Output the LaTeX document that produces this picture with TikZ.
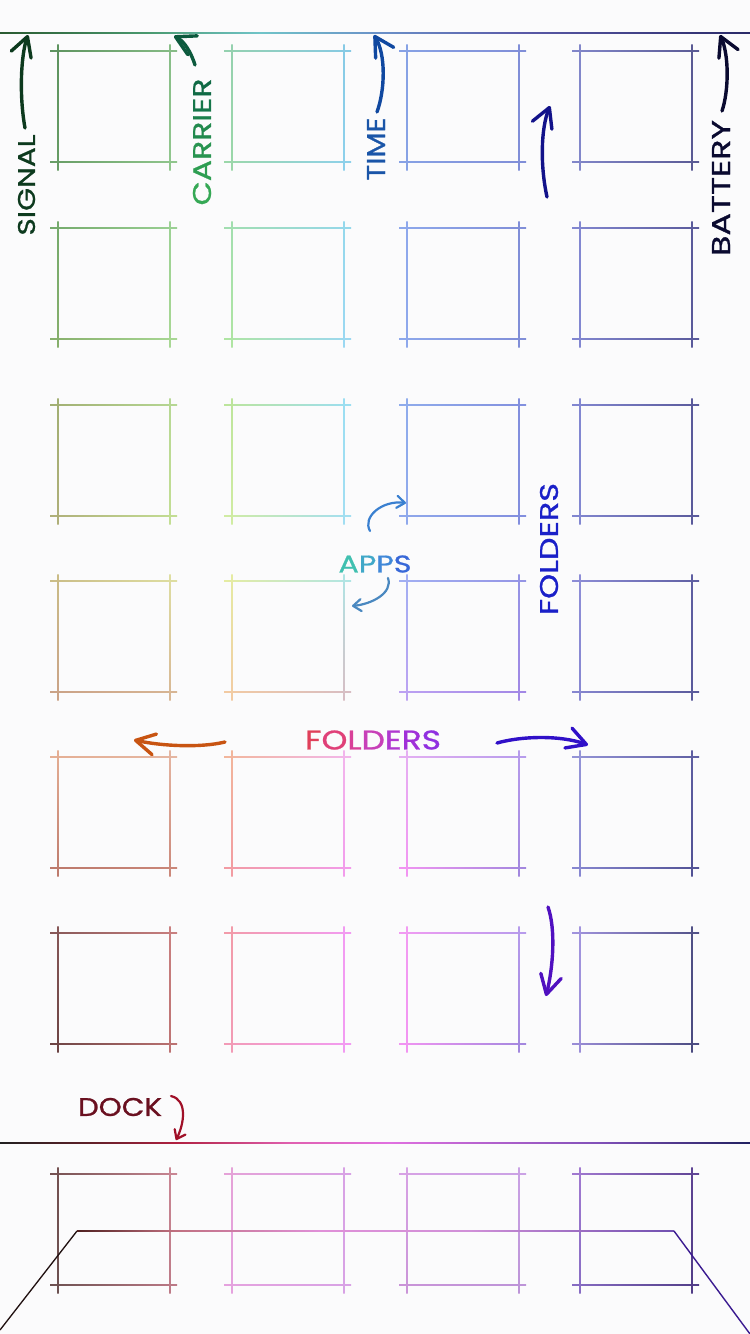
\documentclass[tikz,border=0pt]{standalone}
\usepackage{fontspec}
\setmainfont{Poppins}[FakeBold=0.9]
\usepackage{graphicx}
\usetikzlibrary{arrows.meta}
% grid square with corner colours: x, y(top), TL, TR, BL, BR
\newcommand\gsq[6]{%
  \definecolor{qTL}{HTML}{#3}\definecolor{qTR}{HTML}{#4}%
  \definecolor{qBL}{HTML}{#5}\definecolor{qBR}{HTML}{#6}%
  \colorlet{qTL}{qTL!84!white}\colorlet{qTR}{qTR!84!white}%
  \colorlet{qBL}{qBL!84!white}\colorlet{qBR}{qBR!84!white}%
  \shade[left color=qTL,right color=qTR] ({#1-8},{#2-0.65}) rectangle ({#1+119},{#2+0.65});
  \shade[left color=qBL,right color=qBR] ({#1-8},{#2+111-0.65}) rectangle ({#1+119},{#2+111+0.65});
  \shade[top color=qTL,bottom color=qBL] ({#1-0.65},{#2-7}) rectangle ({#1+0.65},{#2+119});
  \shade[top color=qTR,bottom color=qBR] ({#1+112-0.65},{#2-7}) rectangle ({#1+112+0.65},{#2+119});
}
% gradient segment of a horizontal rule: x1, x2, y, half width, left colour, right colour
\newcommand\gseg[6]{%
  \definecolor{qL}{HTML}{#5}\definecolor{qR}{HTML}{#6}%
  \shade[left color=qL,right color=qR] ({#1},{#3-#4}) rectangle ({#2},{#3+#4});
}
\definecolor{sigc}{HTML}{0D3A1E}
\definecolor{carc}{HTML}{0D5A3E}
\definecolor{timec}{HTML}{1048A0}
\definecolor{timet}{HTML}{1A55A8}
\definecolor{batc}{HTML}{0A0A30}
\definecolor{navyc}{HTML}{12128A}
\definecolor{foldv}{HTML}{1A20C8}
\definecolor{orangec}{HTML}{C85412}
\definecolor{bluer}{HTML}{3010C8}
\definecolor{purpd}{HTML}{5010C0}
\definecolor{appsu}{HTML}{3A80D0}
\definecolor{appsd}{HTML}{4A88C0}
\definecolor{dockc}{HTML}{6A1020}
\definecolor{docka}{HTML}{A01028}
\definecolor{bgc}{HTML}{FBFBFC}
\definecolor{shelfl}{HTML}{201010}
\definecolor{shelfr}{HTML}{3A1A90}
\begin{document}
\begin{tikzpicture}[x=1pt,y=-1pt,
  lbl/.style={inner sep=0pt,outer sep=0pt,font=\fontsize{24}{24}\selectfont},
  bigarrow/.style={line width=3.4pt,line cap=round,line join=round,
     -{Straight Barb[length=19pt,width=21pt,line cap=round,line join=round]}},
  smallarrow/.style={line width=2.2pt,line cap=round,line join=round,
     -{Straight Barb[length=8pt,width=12pt,line cap=round,line join=round]}}]
\useasboundingbox (0,0) rectangle (750,1334);
\fill[bgc] (0,0) rectangle (750,1334);

% top status-bar rule
\gseg{0}{150}{33}{0.8}{2A5A30}{4A9A70}
\gseg{150}{260}{33}{0.8}{4A9A70}{70C4C8}
\gseg{260}{380}{33}{0.8}{70C4C8}{6A90C8}
\gseg{380}{520}{33}{0.8}{6A90C8}{5A5AA8}
\gseg{520}{750}{33}{0.8}{5A5AA8}{2A2A68}

% icon grid
\gsq{58}{51}{3E7E40}{70B070}{4A8A48}{7CBC78}
\gsq{232}{51}{80C8A0}{70C0E0}{88D098}{78C8E8}
\gsq{407}{51}{7090E0}{6878D0}{7090E0}{6878D0}
\gsq{580}{51}{6A70C0}{3A3A80}{6A70C0}{3A3A80}

\gsq{58}{228}{5A9A50}{88C880}{70A050}{98D080}
\gsq{232}{228}{90D8A0}{80D0E8}{A0E090}{88D0F0}
\gsq{407}{228}{7898E8}{6878D0}{7898E8}{6878D0}
\gsq{580}{228}{6A70C8}{3A3A88}{6A70C8}{3A3A88}

\gsq{58}{405}{90A058}{A8D080}{A0A060}{B8D880}
\gsq{232}{405}{B0E088}{88D8F0}{C8E890}{90D8F0}
\gsq{407}{405}{7A9CE8}{6A7AD8}{7A98E8}{6A78D8}
\gsq{580}{405}{6A70C8}{3A3A88}{6A70C8}{3A3A88}

\gsq{58}{581}{C0B070}{D8D890}{C09070}{D0A880}
\gsq{232}{581}{E0E890}{A0E0E0}{F0C090}{D0B0B8}
\gsq{407}{581}{90A0F0}{8080E0}{B090F0}{9070E0}
\gsq{580}{581}{7878D0}{404090}{7070C8}{3A3A88}

\gsq{58}{757}{E0A080}{E0A890}{B06050}{C07060}
\gsq{232}{757}{F0A888}{F0A8E8}{F08890}{F088E8}
\gsq{407}{757}{E0A0F0}{A888E8}{F080F0}{9070D8}
\gsq{580}{757}{8080D0}{404090}{7070C8}{303080}

\gsq{58}{933}{703838}{C06868}{502020}{B05858}
\gsq{232}{933}{F08898}{F088F0}{F088A8}{F088F0}
\gsq{407}{933}{F088F0}{A888E8}{F080F0}{9070D8}
\gsq{580}{933}{9080D8}{303070}{8878D0}{282868}

% dock rule
\gseg{0}{90}{1143}{0.9}{202020}{602028}
\gseg{90}{175}{1143}{0.9}{602028}{B02040}
\gseg{175}{290}{1143}{0.9}{B02040}{E060B0}
\gseg{290}{390}{1143}{0.9}{E060B0}{E070E0}
\gseg{390}{600}{1143}{0.9}{E070E0}{8050B8}
\gseg{600}{750}{1143}{0.9}{8050B8}{202060}

% dock icons
\gsq{58}{1174}{5A3030}{C07080}{503030}{B06070}
\gsq{232}{1174}{E090D0}{D090E0}{E090D8}{D090E0}
\gsq{407}{1174}{D090E0}{C090E0}{C080D0}{B080D0}
\gsq{580}{1174}{9060C8}{402080}{7050B8}{301870}

% dock shelf
\coordinate (shA) at (0,1330);
\coordinate (shB) at (77,1231);
\coordinate (shC) at (674,1231);
\coordinate (shD) at (750,1334);
\draw[shelfl,line width=1.3pt] (shA) -- (shB);
\gseg{77}{175}{1231}{0.75}{502020}{C07080}
\gseg{175}{320}{1231}{0.75}{C07080}{E090D8}
\gseg{320}{470}{1231}{0.75}{E090D8}{D090D8}
\gseg{470}{674}{1231}{0.75}{D090D8}{7050B0}
\draw[shelfr,line width=1.4pt] (shC) -- (shD);

% labels
\node[lbl,rotate=90,text=sigc] (signal) at (26.5,185) {\resizebox{101pt}{17pt}{SIGNAL}};
\node[lbl,rotate=90] (carrier) at (202,142) {\resizebox{127pt}{18pt}{%
  {\color[HTML]{35A855}C}{\color[HTML]{2E9E52}A}{\color[HTML]{289450}R}{\color[HTML]{228A4E}R}{\color[HTML]{1C804C}I}{\color[HTML]{16764A}E}{\color[HTML]{106A45}R}}};
\node[lbl,rotate=90,text=timet] (time) at (376,149) {\resizebox{63pt}{18pt}{TIME}};
\node[lbl,rotate=90,text=batc] (battery) at (721,188) {\resizebox{136pt}{18pt}{BATTERY}};
\node[lbl,rotate=90,text=foldv] (foldersv) at (549,549) {\resizebox{132pt}{18pt}{FOLDERS}};
\node[lbl] (apps) at (375,564) {\resizebox{73pt}{17pt}{%
  {\color[HTML]{40C0B0}A}{\color[HTML]{40A8C8}P}{\color[HTML]{4088D8}P}{\color[HTML]{3868D8}S}}};
\node[lbl] (foldersh) at (373,740) {\resizebox{136pt}{19pt}{%
  {\color[HTML]{E0405A}F}{\color[HTML]{E04078}O}{\color[HTML]{D84098}L}{\color[HTML]{C840B8}D}{\color[HTML]{B038D0}E}{\color[HTML]{A030D8}R}{\color[HTML]{9030E0}S}}};
\node[lbl,text=dockc] (dock) at (120,1107) {\resizebox{84pt}{18pt}{DOCK}};

% arrow ends
\coordinate (sigS) at (25,128);   \coordinate (sigT) at (28,35);
\coordinate (carS) at (195,65);   \coordinate (carT) at (174,36);
\coordinate (timS) at (377,112);  \coordinate (timT) at (374,35);
\coordinate (batS) at (722,111);  \coordinate (batT) at (720,35);
\coordinate (navS) at (547,197);  \coordinate (navT) at (550,106);
\coordinate (apuS) at (370,531);  \coordinate (apuT) at (406,503);
\coordinate (apdS) at (388,578);  \coordinate (apdT) at (352,606);
\coordinate (ornS) at (225,742);  \coordinate (ornT) at (134,740);
\coordinate (bluS) at (497,743);  \coordinate (bluT) at (588,745);
\coordinate (purS) at (548,907);  \coordinate (purT) at (546,996);
\coordinate (dckS) at (171,1096); \coordinate (dckT) at (176,1140);

% arrows
\draw[bigarrow,sigc] (sigS) .. controls (19,95) and (21,55) .. (sigT);
\draw[bigarrow,carc] (carS) .. controls (191,52) and (184,41) .. (carT);
\draw[bigarrow,timec] (timS) .. controls (385,90) and (386,55) .. (timT);
\draw[bigarrow,batc] (batS) .. controls (729,90) and (729,55) .. (batT);
\draw[bigarrow,navyc] (navS) .. controls (540,165) and (541,128) .. (navT);
\draw[smallarrow,appsu] (apuS) .. controls (362,517) and (382,500) .. (apuT);
\draw[smallarrow,appsd] (apdS) .. controls (393,593) and (372,604) .. (apdT);
\draw[bigarrow,orangec] (ornS) .. controls (200,748) and (162,746) .. (ornT);
\draw[bigarrow,bluer] (bluS) .. controls (522,736) and (560,735) .. (bluT);
\draw[bigarrow,purpd] (purS) .. controls (556,930) and (553,968) .. (purT);
\draw[smallarrow,docka] (dckS) .. controls (188,1100) and (184,1124) .. (dckT);
\end{tikzpicture}
\end{document}
